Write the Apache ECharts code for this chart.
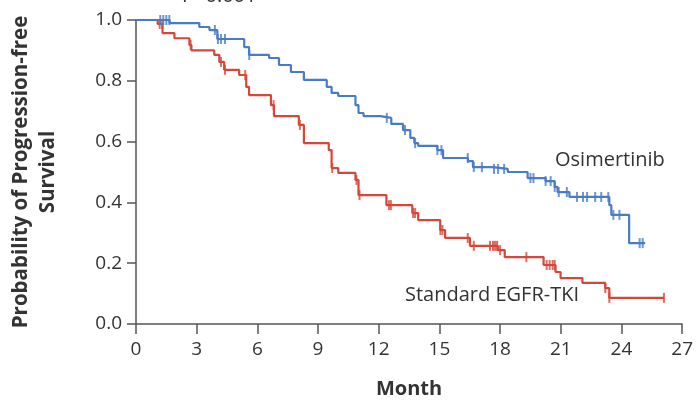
<!DOCTYPE html>
<html>
<head>
<meta charset="utf-8">
<script src="https://cdn.jsdelivr.net/npm/echarts@6/dist/echarts.min.js"></script>
<style>html,body{margin:0;padding:0;background:#fff;}#c{width:696px;height:404px;}</style>
</head>
<body>
<div id="c"></div>
<script>
// Kaplan-Meier step data (months, survival probability after each event)
var osiTimes = [0, 1.66, 3.13, 3.63, 4.02, 5.35, 5.59, 6.58, 7.07, 7.66, 8.3, 9.43, 9.67, 10.0, 10.85, 11.0, 11.25, 12.08, 12.62, 13.2, 13.56, 13.76, 13.95, 14.9, 15.18, 16.41, 16.66, 17.64, 18.38, 19.36, 20.25, 20.7, 20.84, 21.43, 23.4, 23.5, 24.38, 25.17];
var osiSurv  = [1.0, 0.99, 0.977, 0.967, 0.9375, 0.911, 0.885, 0.875, 0.852, 0.829, 0.803, 0.78, 0.76, 0.75, 0.72, 0.694, 0.684, 0.678, 0.658, 0.638, 0.612, 0.595, 0.586, 0.572, 0.546, 0.536, 0.516, 0.51, 0.5, 0.48, 0.47, 0.451, 0.434, 0.418, 0.391, 0.359, 0.266, 0.266];
var osiCensor = [1.2, 1.35, 1.5, 1.65, 3.9, 4.05, 4.2, 4.4, 5.6, 12.4, 13.3, 13.8, 14.9, 15.1, 16.4, 16.7, 17.1, 17.7, 17.9, 18.2, 19.5, 19.65, 20.25, 20.5, 20.7, 20.9, 21.3, 21.8, 22.1, 22.3, 22.7, 23.0, 23.35, 23.6, 23.9, 24.9, 25.05];

var stdTimes = [0, 1.07, 1.31, 1.9, 2.64, 2.74, 3.87, 4.12, 4.36, 5.1, 5.45, 5.59, 6.67, 6.82, 8.05, 8.3, 9.53, 9.67, 10.0, 10.85, 11.0, 12.38, 13.66, 13.95, 15.04, 15.28, 16.51, 17.89, 18.23, 20.15, 20.74, 20.99, 22.07, 23.2, 23.4, 26.1];
var stdSurv  = [1.0, 0.987, 0.957, 0.94, 0.918, 0.9, 0.885, 0.862, 0.836, 0.819, 0.78, 0.753, 0.72, 0.684, 0.655, 0.595, 0.572, 0.513, 0.497, 0.474, 0.424, 0.391, 0.365, 0.342, 0.309, 0.283, 0.257, 0.243, 0.22, 0.194, 0.171, 0.151, 0.135, 0.118, 0.086, 0.086];
var stdCensor = [1.17, 1.3, 2.7, 4.2, 4.4, 5.4, 6.8, 8.1, 9.7, 10.9, 11.05, 12.5, 12.6, 13.7, 13.8, 15.05, 15.15, 16.4, 16.7, 17.5, 17.65, 17.75, 17.85, 18.0, 19.3, 20.3, 20.45, 20.6, 20.7, 23.2, 23.4, 26.1];

var xLabels = ['0','3','6','9','12','15','18','21','24','27'];
var yLabels = ['0.0','0.2','0.4','0.6','0.8','1.0'];

function pairs(t, s) { return t.map(function (v, i) { return [v, s[i]]; }); }
function censorPts(c, t, s) {
  return c.map(function (x) {
    var v = s[0];
    for (var i = 0; i < t.length; i++) { if (t[i] <= x) v = s[i]; }
    return [x, v];
  });
}

var blue = '#4a7cc4', red = '#d4473a', axisCol = '#555', textCol = '#333';
var FONT = 'Open Sans';
var chart = echarts.init(document.getElementById('c'));
chart.setOption({
  animation: false,
  backgroundColor: '#fff',
  grid: { left: 136, right: 11, top: 20, bottom: 80 },
  xAxis: {
    type: 'value', min: 0, max: 27, interval: 3,
    name: 'Month', nameLocation: 'middle', nameGap: 55,
    nameTextStyle: { fontFamily: FONT, fontSize: 20, fontWeight: 'bold', color: textCol },
    axisLine: { show: true, lineStyle: { color: axisCol, width: 1.5 } },
    axisTick: { show: true, length: 10, lineStyle: { color: axisCol, width: 1.5 } },
    axisLabel: { fontFamily: FONT, fontSize: 19, color: textCol, margin: 16,
      formatter: function (v) { return xLabels[Math.round(v / 3)]; } },
    splitLine: { show: false }
  },
  yAxis: {
    type: 'value', min: 0, max: 1, interval: 0.2,
    name: 'Probability of Progression-free\nSurvival', nameLocation: 'middle', nameGap: 74,
    nameTextStyle: { fontFamily: FONT, fontSize: 20.5, fontWeight: 'bold', color: textCol, lineHeight: 27 },
    axisLine: { show: true, lineStyle: { color: axisCol, width: 1.5 } },
    axisTick: { show: true, length: 9, lineStyle: { color: axisCol, width: 1.5 } },
    axisLabel: { fontFamily: FONT, fontSize: 19, color: textCol, margin: 14,
      formatter: function (v) { return yLabels[Math.round(v / 0.2)]; } },
    splitLine: { show: false }
  },
  series: [
    { type: 'line', step: 'end', data: pairs(osiTimes, osiSurv), showSymbol: false, symbol: 'none',
      lineStyle: { color: blue, width: 2.2 }, z: 3 },
    { type: 'line', step: 'end', data: pairs(stdTimes, stdSurv), showSymbol: false, symbol: 'none',
      lineStyle: { color: red, width: 2.2 }, z: 2 },
    { type: 'scatter', data: censorPts(osiCensor, osiTimes, osiSurv), symbol: 'rect', symbolSize: [2, 10],
      itemStyle: { color: blue }, z: 4 },
    { type: 'scatter', data: censorPts(stdCensor, stdTimes, stdSurv), symbol: 'rect', symbolSize: [2, 10],
      itemStyle: { color: red }, z: 3 }
  ],
  graphic: [
    { type: 'text', left: 182, top: -14, style: { text: 'P<0.001', fontFamily: FONT, fontSize: 20, fill: textCol } },
    { type: 'text', left: 555, top: 150, style: { text: 'Osimertinib', fontFamily: FONT, fontSize: 20, fill: textCol } },
    { type: 'text', left: 405, top: 285, style: { text: 'Standard EGFR-TKI', fontFamily: FONT, fontSize: 20, fill: textCol } }
  ]
});
</script>
</body>
</html>
